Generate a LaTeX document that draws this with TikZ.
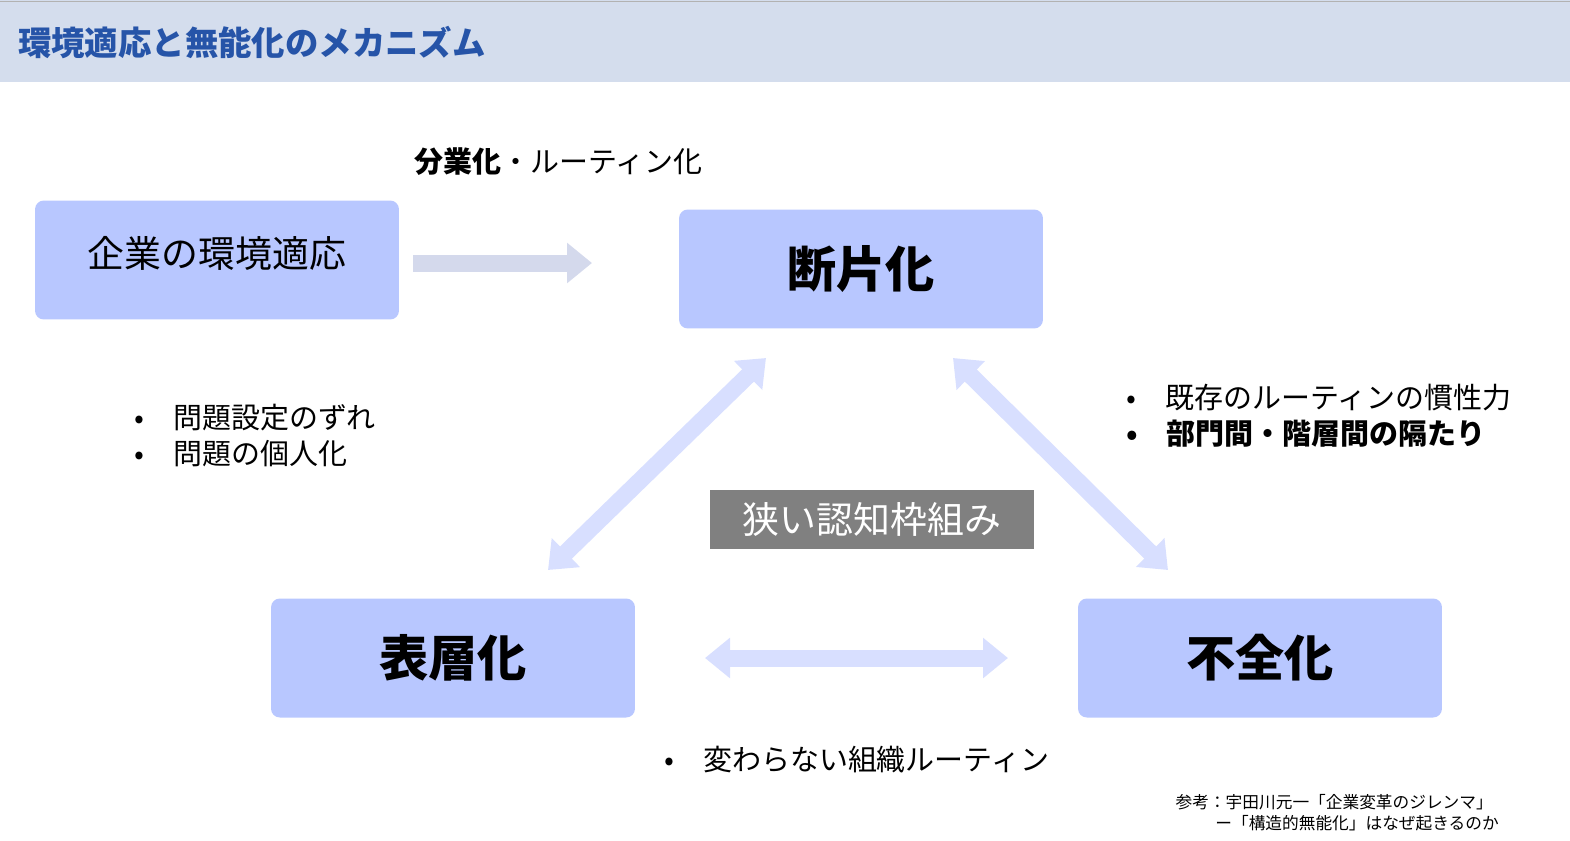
\documentclass[tikz,border=0pt]{standalone}
\usepackage{fontspec}
\setmainfont{Noto Sans CJK JP}
\usetikzlibrary{arrows.meta,positioning,calc}
\definecolor{band}{RGB}{212,221,237}
\definecolor{titleblue}{RGB}{38,84,168}
\definecolor{boxblue}{RGB}{184,199,255}
\definecolor{arrowblue}{RGB}{216,223,255}
\definecolor{arrowgray}{RGB}{212,217,236}
\definecolor{framegray}{RGB}{128,128,128}
\tikzset{
  box/.style={rectangle, rounded corners=5pt, fill=boxblue, minimum width=7.28cm, minimum height=2.38cm},
  fat/.style={line width=0.34cm, draw=arrowblue, arrows={-Triangle[length=0.5cm,width=0.78cm]}},
  fatboth/.style={fat, arrows={Triangle[length=0.5cm,width=0.78cm]-Triangle[length=0.5cm,width=0.78cm]}},
  note/.style={anchor=west, font=\fontsize{16.5}{20.5}\selectfont, align=left},
  refnote/.style={anchor=east, font=\fontsize{9.5}{12}\selectfont}
}
\begin{document}
\begin{tikzpicture}[x=0.02cm,y=-0.02cm]
\useasboundingbox (0,0) rectangle (1570,840);
\fill[band] (0,0) rectangle (1570,82);
\draw[gray!60] (0,1) -- (1570,1);
\node[anchor=west, text=titleblue, font=\fontsize{19}{22}\selectfont\bfseries] (title) at (12,43) {環境適応と無能化のメカニズム};

% boxes
\node[box] (env) at (217,260) {};
\node[font=\fontsize{21}{24}\selectfont] (envtext) at (217,253) {企業の環境適応};
\node[box] (frag) at (861,269) {\fontsize{28}{32}\selectfont\bfseries 断片化};
\node[box] (surf) at (453,658) {\fontsize{28}{32}\selectfont\bfseries 表層化};
\node[box] (dys) at (1260,658) {\fontsize{28}{32}\selectfont\bfseries 不全化};
\node[fill=framegray, minimum width=6.5cm, minimum height=1.18cm, text=white, font=\fontsize{21}{24}\selectfont] (frame) at (872,519) {狭い認知枠組み};

% arrow ends
\coordinate (a1) at (413,263);
\coordinate (a2) at (592,263);
\coordinate (d1) at (548,570);
\coordinate (d2) at (766,358);
\coordinate (e1) at (953,358);
\coordinate (e2) at (1168,570);
\coordinate (h1) at (705,658);
\coordinate (h2) at (1008,658);
\draw[fat, draw=arrowgray] (a1) -- (a2);
\draw[fatboth] (d1) -- (d2);
\draw[fatboth] (e1) -- (e2);
\draw[fatboth] (h1) -- (h2);

% labels
\node[note] (div) at (408,162) {\textbf{分業化}・ルーティン化};
\node[note] (left) at (128,436) {•\quad 問題設定のずれ\\•\quad 問題の個人化};
\node[note] (right) at (1120,416) {•\quad 既存のルーティンの慣性力\\\textbf{•\quad 部門間・階層間の隔たり}};
\node[note] (bottom) at (658,760) {•\quad 変わらない組織ルーティン};
\node[refnote] (ref1) at (1499,802) {参考：宇田川元一「企業変革のジレンマ」};
\node[refnote] (ref2) at (1505,823) {ー「構造的無能化」はなぜ起きるのか};
\end{tikzpicture}
\end{document}
